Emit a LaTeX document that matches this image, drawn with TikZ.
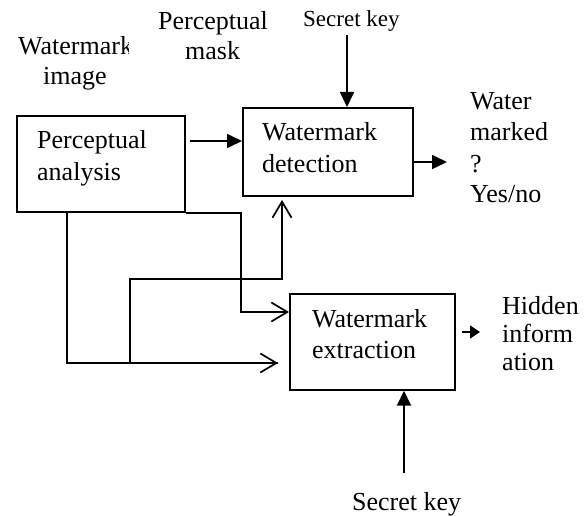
\documentclass[tikz,border=0pt]{standalone}
\usepackage{fontspec}
\setmainfont{Liberation Serif}
\usetikzlibrary{arrows.meta}
\begin{document}
\begin{tikzpicture}[x=1pt,y=-1pt,
  box/.style={draw,line width=1.7pt,inner sep=0pt,anchor=north west},
  txt/.style={anchor=base west,inner sep=0pt,font=\fontsize{26}{30}\selectfont},
  small/.style={anchor=base west,inner sep=0pt,font=\fontsize{23}{27}\selectfont},
  conn/.style={line width=1.7pt},
  open/.style={conn,-{Straight Barb[length=16pt,width=19pt]}},
  filled/.style={conn,-{Triangle[length=15pt,width=14pt]}},
  tiny/.style={conn,-{Triangle[length=10pt,width=13pt]}}]
\useasboundingbox (0,0) rectangle (586,516);
% boxes
\node[box,minimum width=168pt,minimum height=96pt] (ana) at (16,115) {};
\node[box,minimum width=170pt,minimum height=88pt] (det) at (242,107) {};
\node[box,minimum width=165pt,minimum height=96pt] (ext) at (289,293) {};
% box texts
\node[txt] (ana1) at (37,148) {Perceptual};
\node[txt] (ana2) at (37,180) {analysis};
\node[txt] (det1) at (262,141) {Watermark};
\node[txt] (det2) at (262,172) {detection};
\node[txt] (ext1) at (312,327) {Watermark};
\node[txt] (ext2) at (312,358) {extraction};
% free texts
\begin{scope}
\clip (0,0) rectangle (128,70);
\node[txt] (wm1) at (18,55) {Watermark};
\end{scope}
\node[txt] (wm2) at (43,85) {image};
\node[txt] (pm1) at (158,30) {Perceptual};
\node[txt] (pm2) at (185,60) {mask};
\node[small] (sk1) at (303,27) {Secret key};
\node[txt] (o1) at (470,110) {Water};
\node[txt] (o2) at (470,140) {marked};
\node[txt] (o3) at (470,172) {?};
\node[txt] (o4) at (470,202) {Yes/no};
\node[txt] (h1) at (502,314) {Hidden};
\node[txt] (h2) at (502,342) {inform};
\node[txt] (h3) at (502,370) {ation};
\node[txt] (sk2) at (352,510) {Secret key};
% coordinates
\coordinate (a1) at (190,141);
\coordinate (k1) at (347,35);
\coordinate (d1) at (447,162);
\coordinate (x67) at (67,363);
\coordinate (e1) at (278,363);
\coordinate (c241) at (241,312);
\coordinate (j130) at (130,279);
\coordinate (j282) at (282,200);
\coordinate (h0) at (480,332);
\coordinate (k2) at (404,473);
% connectors
\draw[filled] (a1) -- (a1 -| det.west);
\draw[filled] (k1) -- (k1 |- det.north);
\draw[filled] (det.east |- d1) -- (d1);
\draw[conn] (ana.south -| x67) -- (x67) -- (e1);
\draw[open] (x67) -- (e1);
\draw[open] (ana.south east) -| (c241) -- (c241 -| ext.west);
\draw[open] (x67 -| j130) -- (j130) -| (j282);
\draw[tiny] ([xshift=6pt]ext.east |- h0) -- (h0);
\draw[filled] (k2) -- (k2 |- ext.south);
\end{tikzpicture}
\end{document}
